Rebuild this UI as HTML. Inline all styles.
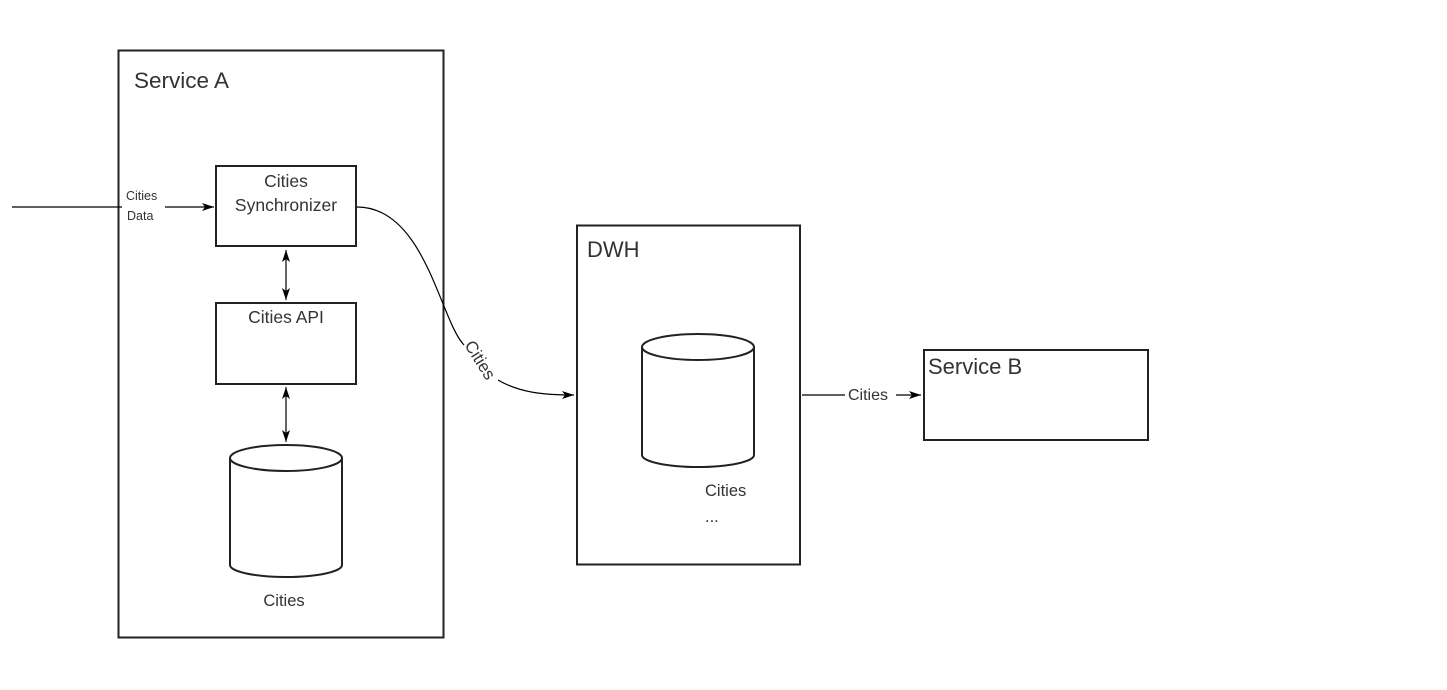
<!DOCTYPE html>
<html><head><style>body{margin:0;background:#fff}svg{display:block}text{font-family:"Liberation Sans",sans-serif;fill:#333}</style></head>
<body>
<svg width="1447" height="690" viewBox="0 0 1447 690" xmlns="http://www.w3.org/2000/svg">
<defs><marker id="a" markerWidth="12" markerHeight="8" refX="12" refY="4" orient="auto-start-reverse" markerUnits="userSpaceOnUse"><path d="M0,0 L12,4 L0,8 L3,4 z" fill="#000"/></marker></defs>
<g fill="none" stroke="#222" stroke-width="2">
<rect x="118.5" y="50.5" width="325" height="587"/>
<rect x="216" y="166" width="140" height="80"/>
<rect x="216" y="303" width="140" height="81"/>
<rect x="577" y="225.5" width="223" height="339"/>
<rect x="924" y="350" width="224" height="90"/>
<path d="M230,458 L230,565 A56,12 0 0 0 342,565 L342,458"/>
<ellipse cx="286" cy="458" rx="56" ry="13" fill="#fff"/>
<path d="M642,347 L642,455 A56,12 0 0 0 754,455 L754,347"/>
<ellipse cx="698" cy="347" rx="56" ry="13" fill="#fff"/>
</g>
<g fill="none" stroke="#000" stroke-width="1.2">
<path d="M12,207 L122,207 M165,207 L214,207" marker-end="url(#a)"/>
<path d="M286,250 L286,300" marker-start="url(#a)" marker-end="url(#a)"/>
<path d="M286,387 L286,442" marker-start="url(#a)" marker-end="url(#a)"/>
<path d="M357,207 C425,207 440,320 464,345" />
<path d="M498,380 C520,393 545,395 574,395" marker-end="url(#a)"/>
<path d="M802,395 L845,395 M896,395 L921,395" marker-end="url(#a)"/>
</g>
<text x="134" y="88" font-size="22.5">Service A</text>
<text x="286" y="187" font-size="17.5" text-anchor="middle">Cities</text>
<text x="286" y="211" font-size="17.5" text-anchor="middle">Synchronizer</text>
<text x="286" y="323" font-size="17.5" text-anchor="middle">Cities API</text>
<text x="126" y="200" font-size="12.5">Cities</text>
<text x="127" y="220" font-size="12.5">Data</text>
<text x="284" y="606" font-size="16.5" text-anchor="middle">Cities</text>
<text x="587" y="257" font-size="22">DWH</text>
<text x="705" y="496" font-size="16.5">Cities</text>
<text x="705" y="522" font-size="16.5">...</text>
<text x="928" y="374" font-size="22">Service B</text>
<text x="848" y="400" font-size="16">Cities</text>
<text x="0" y="0" font-size="17" transform="translate(464,345) rotate(58)">Cities</text>
</svg>
</body></html>
